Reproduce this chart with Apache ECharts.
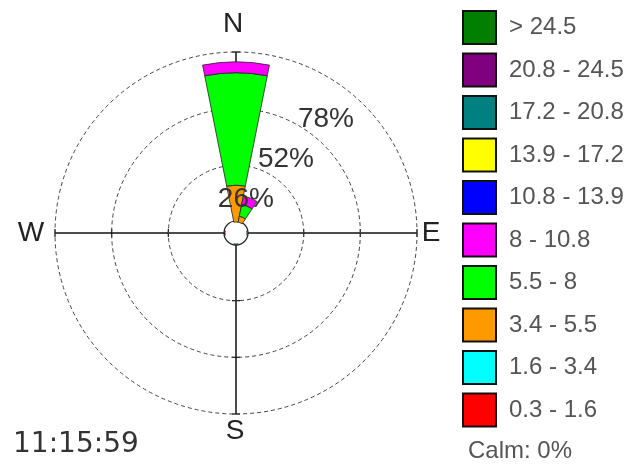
<!DOCTYPE html>
<html>
<head>
<meta charset="utf-8">
<title>Wind rose</title>
<script src="https://cdn.jsdelivr.net/npm/echarts/dist/echarts.min.js"></script>
<style>
  html, body { margin: 0; padding: 0; background: #fff; }
  #chart { width: 634px; height: 464px; }
</style>
</head>
<body>
<div id="chart"></div>
<script>
// 16 compass sectors, clockwise from north
const directions = ['N', 'NNE', 'NE', 'ENE', 'E', 'ESE', 'SE', 'SSE', 'S', 'SSW', 'SW', 'WSW', 'W', 'WNW', 'NW', 'NNW'];

// wind speed classes, slowest first
const speedBins = ['0.3 - 1.6', '1.6 - 3.4', '3.4 - 5.5', '5.5 - 8', '8 - 10.8', '10.8 - 13.9', '13.9 - 17.2', '17.2 - 20.8', '20.8 - 24.5', '> 24.5'];
const binColors = ['#ff0000', '#00ffff', '#ff9900', '#00ff00', '#ff00ff', '#0000ff', '#ffff00', '#008080', '#800080', '#007f00'];

// share of observations (%) per direction for each speed class
const pct_0_3  = [0, 0, 0, 0, 0, 0, 0, 0, 0, 0, 0, 0, 0.3, 0, 0, 0];
const pct_1_6  = [0, 0, 0, 0, 0.4, 0, 0, 0, 0, 0, 0, 0, 0, 0, 0, 0];
const pct_3_4  = [16.9, 2.8, 0, 0, 0, 0, 0, 0, 0, 0, 0, 0, 0, 0, 0, 0];
const pct_5_5  = [51.6, 5.5, 0, 0, 0, 0, 0, 0, 0.4, 0, 0, 0, 0, 0, 0, 0];
const pct_8    = [5.0, 4.0, 0, 0, 0, 0, 0, 0, 0, 0, 0, 0, 0, 0, 0, 0];
const pct_10_8 = [0, 0, 0, 0, 0, 0, 0, 0, 0, 0, 0, 0, 0, 0, 0, 0];
const pct_13_9 = [0, 0, 0, 0, 0, 0, 0, 0, 0, 0, 0, 0, 0, 0, 0, 0];
const pct_17_2 = [0, 0, 0, 0, 0, 0, 0, 0, 0, 0, 0, 0, 0, 0, 0, 0];
const pct_20_8 = [0, 0, 0, 0, 0, 0, 0, 0, 0, 0, 0, 0, 0, 0, 0, 0];
const pct_24_5 = [0, 0, 0, 0, 0, 0, 0, 0, 0, 0, 0, 0, 0, 0, 0, 0];

// ring values (%) on the radial scale
const ringTicks = [26, 52, 78];
const compassLabels = ['N', 'E', 'S', 'W'];
const calmPct = 0;
const timeStamp = '11:15:59';

const binData = [pct_0_3, pct_1_6, pct_3_4, pct_5_5, pct_8, pct_10_8, pct_13_9, pct_17_2, pct_20_8, pct_24_5];

// layout of the rose
const CX = 236, CY = 233;
const R_IN = 11, R_OUT = 181;
const R_MAX = ringTicks[ringTicks.length - 1];
const rOf = v => R_IN + v / R_MAX * (R_OUT - R_IN);

const FONT = '"Liberation Sans", Arial, sans-serif';

const graphics = [];

// north-south and west-east cross lines
graphics.push({ type: 'line', z: 0, shape: { x1: CX - R_OUT, y1: CY, x2: CX + R_OUT, y2: CY }, style: { stroke: '#111', lineWidth: 1.5 } });
graphics.push({ type: 'line', z: 0, shape: { x1: CX, y1: CY - R_OUT, x2: CX, y2: CY + R_OUT }, style: { stroke: '#111', lineWidth: 1.5 } });

// small ticks where the rings cross the cross lines
ringTicks.forEach(v => {
  const r = rOf(v), t = 4;
  [[CX + r, CY, 0], [CX - r, CY, 0], [CX, CY + r, 1], [CX, CY - r, 1]].forEach(([x, y, vert]) => {
    graphics.push({
      type: 'line', z: 0,
      shape: vert ? { x1: x - t, y1: y, x2: x + t, y2: y } : { x1: x, y1: y - t, x2: x, y2: y + t },
      style: { stroke: '#111', lineWidth: 1.2 }
    });
  });
});

// calm hole in the middle
graphics.push({ type: 'circle', z: 1, shape: { cx: CX, cy: CY, r: R_IN + 1 }, style: { fill: '#fff', stroke: '#222', lineWidth: 1.2 } });

// compass letters around the outer ring
const compassPos = {
  N: [CX - 3, CY - R_OUT - 28],
  E: [CX + R_OUT + 14, CY],
  S: [CX - 1, CY + R_OUT + 17],
  W: [CX - R_OUT - 24, CY]
};
compassLabels.forEach(d => {
  graphics.push({
    type: 'text', z: 10,
    x: compassPos[d][0], y: compassPos[d][1],
    style: { text: d, fontSize: 28, fontFamily: FONT, fill: '#222', align: 'center', verticalAlign: 'middle' }
  });
});

// percentage labels on the rings, toward the north-east
ringTicks.forEach(v => {
  const d = rOf(v) * Math.SQRT1_2;
  graphics.push({
    type: 'text', z: 10,
    x: CX + d - 10, y: CY - d + 14,
    style: { text: v + '%', fontSize: 28, fontFamily: FONT, fill: '#333', align: 'right', verticalAlign: 'middle' }
  });
});

// timestamp and calm share
graphics.push({
  type: 'text', z: 10, x: 13, y: 445,
  style: { text: timeStamp, fontSize: 28, fontFamily: '"DejaVu Sans", sans-serif', fill: '#333', align: 'left', verticalAlign: 'middle' }
});
graphics.push({
  type: 'text', z: 10, x: 468, y: 451,
  style: { text: 'Calm: ' + calmPct + '%', fontSize: 24, fontFamily: FONT, fill: '#555', align: 'left', verticalAlign: 'middle' }
});

const series = speedBins.map((name, i) => ({
  type: 'bar',
  name: name,
  coordinateSystem: 'polar',
  stack: 'wind',
  barCategoryGap: '0%',
  z: 2,
  data: binData[i].map(v => (v > 0 ? v : '-')),
  itemStyle: { color: binColors[i], borderColor: '#222', borderWidth: 0.8 },
  emphasis: { disabled: true }
}));

const chart = echarts.init(document.getElementById('chart'), null, { renderer: 'canvas' });
chart.setOption({
  animation: false,
  backgroundColor: '#fff',
  polar: { center: [CX, CY], radius: [R_IN, R_OUT] },
  angleAxis: {
    type: 'category',
    data: directions,
    startAngle: 90 + 360 / directions.length / 2,
    clockwise: true,
    boundaryGap: true,
    axisLine: { show: false },
    axisTick: { show: false },
    axisLabel: { show: false },
    splitLine: { show: false }
  },
  radiusAxis: {
    type: 'value',
    min: 0,
    max: R_MAX,
    interval: ringTicks[0],
    axisLine: { show: false },
    axisTick: { show: false },
    axisLabel: { show: false },
    splitLine: { show: true, lineStyle: { color: '#444', width: 1, type: [4, 3] } }
  },
  legend: {
    data: speedBins.slice().reverse(),
    orient: 'vertical',
    left: 462,
    top: 10,
    padding: 0,
    itemWidth: 33,
    itemHeight: 33,
    itemGap: 7.5,
    icon: 'rect',
    selectedMode: false,
    itemStyle: { borderColor: '#111', borderWidth: 2 },
    textStyle: { fontSize: 24, fontFamily: FONT, color: '#555', padding: [0, 0, 0, 8], lineHeight: 26 }
  },
  tooltip: { show: false },
  series: series,
  graphic: graphics
});
</script>
</body>
</html>
